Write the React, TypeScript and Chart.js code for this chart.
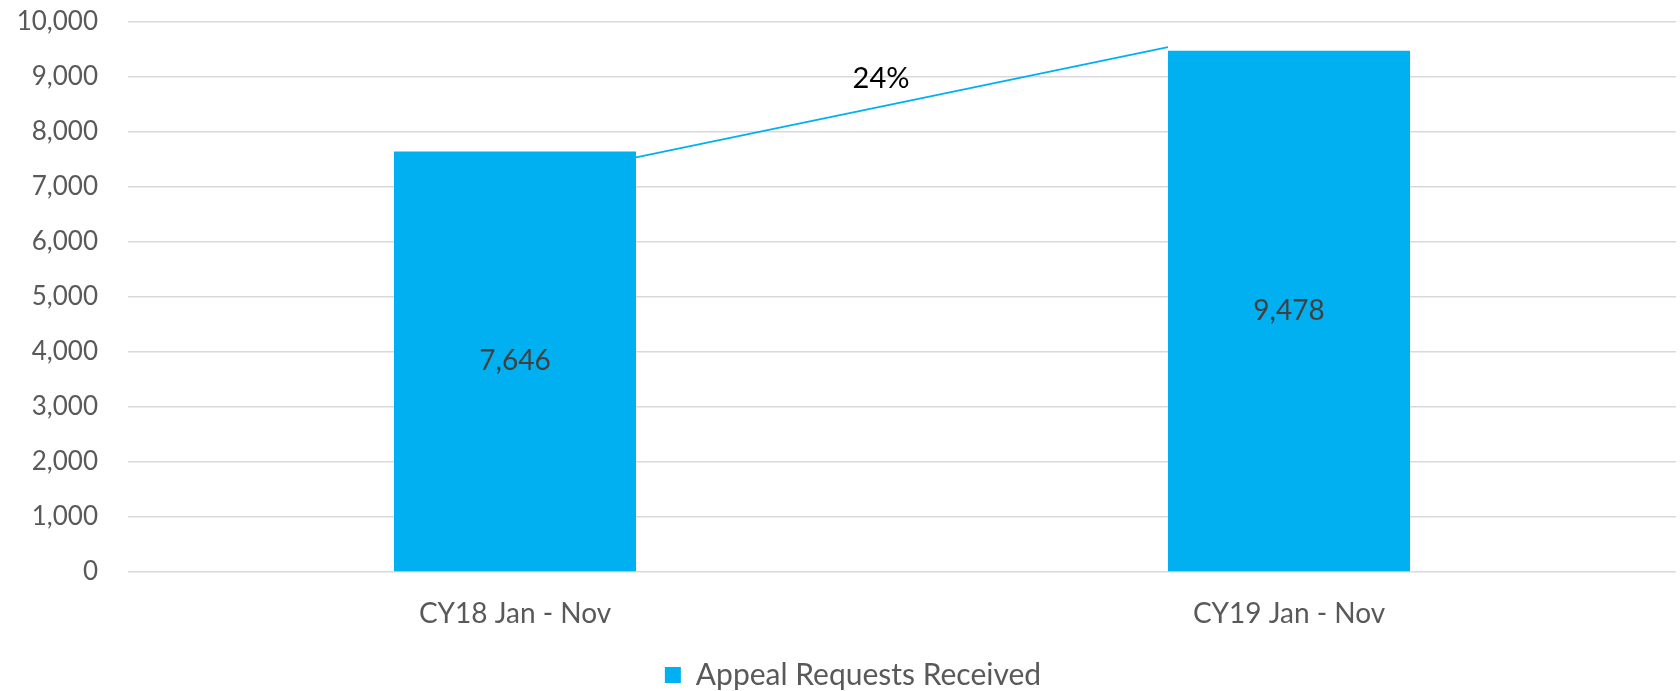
import React, { useEffect, useRef } from "react";
import { Chart, registerables } from "chart.js";

Chart.register(...registerables);

const categories = ["CY18 Jan - Nov", "CY19 Jan - Nov"];
const appealRequests = [7646, 9478];
const seriesLabel = "Appeal Requests Received";
const yTicks = [0, 1000, 2000, 3000, 4000, 5000, 6000, 7000, 8000, 9000, 10000];
// connector line end values (left bar right edge -> right bar left edge)
const connectorValues = [7540, 9545];

const FONT = "Lato";
const BLUE = "#00B0F0";

export default function App() {
  const ref = useRef<HTMLCanvasElement | null>(null);
  useEffect(() => {
    if (!ref.current) return;
    const overlay = {
      id: "overlay",
      afterLayout(chart: any) {
        if (chart.legend) chart.legend.left = 30;
      },
      afterDatasetsDraw(chart: any) {
        const ctx = chart.ctx;
        const meta = chart.getDatasetMeta(0);
        const ys = chart.scales.y;
        ctx.save();
        ctx.font = `28px ${FONT}`;
        ctx.fillStyle = "#404040";
        ctx.textAlign = "center";
        ctx.textBaseline = "middle";
        meta.data.forEach((bar: any, i: number) => {
          const p = bar.getProps(["x", "y", "base"], true);
          ctx.fillText(appealRequests[i].toLocaleString("en-US"), p.x, (p.y + p.base) / 2);
        });
        const b0 = meta.data[0].getProps(["x", "width"], true);
        const b1 = meta.data[1].getProps(["x", "width"], true);
        const x0 = b0.x + b0.width / 2;
        const x1 = b1.x - b1.width / 2;
        const y0 = ys.getPixelForValue(connectorValues[0]);
        const y1 = ys.getPixelForValue(connectorValues[1]);
        ctx.strokeStyle = BLUE;
        ctx.lineWidth = 1.8;
        ctx.beginPath();
        ctx.moveTo(x0, y0);
        ctx.lineTo(x1, y1);
        ctx.stroke();
        const pct = Math.round(((appealRequests[1] - appealRequests[0]) / appealRequests[0]) * 100) + "%";
        ctx.font = `29px ${FONT}`;
        ctx.fillStyle = "#000000";
        ctx.fillText(pct, (x0 + x1) / 2 - 21, (y0 + y1) / 2 - 24);
        ctx.restore();
      },
    };
    const chart = new Chart(ref.current, {
      type: "bar",
      data: {
        labels: categories,
        datasets: [
          {
            label: seriesLabel,
            data: appealRequests,
            backgroundColor: BLUE,
            borderWidth: 0,
            categoryPercentage: 1,
            barPercentage: 0.3127,
          },
        ],
      },
      options: {
        animation: false,
        responsive: true,
        maintainAspectRatio: false,
        layout: { padding: { top: 22, right: 4, left: 0, bottom: -9 } },
        plugins: {
          legend: {
            position: "bottom",
            labels: {
              boxWidth: 16,
              boxHeight: 16,
              color: "#595959",
              font: { family: FONT, size: 30, lineHeight: 0.9 },
              padding: 0,
            },
          },
          tooltip: { enabled: false },
        },
        scales: {
          x: {
            grid: { display: false },
            border: { display: false },
            ticks: { color: "#595959", font: { family: FONT, size: 28 }, padding: 17 },
            afterFit: (s: any) => {
              s.height = 88;
            },
          },
          y: {
            min: 0,
            max: 10000,
            afterBuildTicks: (s: any) => {
              s.ticks = yTicks.map((v) => ({ value: v }));
            },
            afterFit: (s: any) => {
              s.width = 128;
              s.paddingTop = 0;
              s.paddingBottom = 0;
            },
            grid: { color: "#D9D9D9", lineWidth: 1.5, drawTicks: false },
            border: { display: false },
            ticks: {
              color: "#595959",
              font: { family: FONT, size: 26 },
              padding: 30,
              callback: (v: any) => Number(v).toLocaleString("en-US"),
            },
          },
        },
      },
      plugins: [overlay],
    });
    return () => chart.destroy();
  }, []);
  return (
    <div style={{ position: "fixed", left: 0, top: 0, width: 1680, height: 691, background: "#fff" }}>
      <canvas ref={ref} />
    </div>
  );
}
